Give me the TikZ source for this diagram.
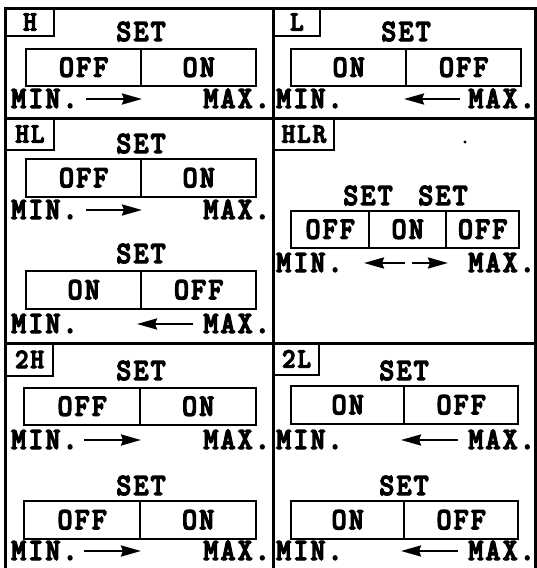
\documentclass[tikz,border=0pt]{standalone}
\usepackage{fontspec}
\newfontfamily\tw{lmmonolt10-bold.otf}[FakeStretch=0.92,FakeBold=4,LetterSpace=7]
\usetikzlibrary{arrows.meta}
\tikzset{
  frame/.style={line width=3pt},
  txt/.style={inner sep=0pt, font=\tw\fontsize{31}{31}\selectfont, text height=18pt, text depth=0pt},
  cell/.style={txt, draw, line width=2.4pt, anchor=north west, minimum height=37pt},
  lab/.style={draw, line width=2pt, anchor=north west, inner sep=0pt, minimum height=27pt,
    font=\tw\fontsize{28}{28}\selectfont, text height=16pt, text depth=0pt},
  minl/.style={txt, anchor=west},
  maxl/.style={txt, anchor=east},
  arr/.style={-{Stealth[length=20pt,width=11pt,inset=2pt]}, line width=2.5pt},
}
\begin{document}
\begin{tikzpicture}[x=1pt,y=-1pt]
\useasboundingbox (0,0) rectangle (537,568);
% frame
\draw[frame] (5,568) -- (5,8) -- (535,8) -- (535,568);
\draw[frame] (273,8) -- (273,568);
\draw[frame] (5,118) -- (535,118);
\draw[frame] (5,343) -- (535,343);

% ---------- H ----------
\node[lab, minimum width=48pt] (hlab) at (5,8) {H};
\node[txt] (hset) at (141,32) {SET};
\node[cell, minimum width=115pt] (hoff) at (25,48) {OFF};
\node[cell, minimum width=115pt] (hon) at (140,48) {ON};
\node[minl] (hmin) at (11,99) {MIN.};
\node[maxl] (hmax) at (270,99) {MAX.};
\coordinate (ha1) at (86,99); \coordinate (ha2) at (142,99);
\draw[arr] (ha1) -- (ha2);

% ---------- L ----------
\node[lab, minimum width=46pt] (llab) at (273,8) {L};
\node[txt] (lset) at (406,32) {SET};
\node[cell, minimum width=115pt] (lon) at (290,48) {ON};
\node[cell, minimum width=115pt] (loff) at (405,48) {OFF};
\node[minl] (lmin) at (276,99) {MIN.};
\node[maxl] (lmax) at (535,99) {MAX.};
\coordinate (la1) at (460,99); \coordinate (la2) at (404,99);
\draw[arr] (la1) -- (la2);

% ---------- HL ----------
\node[lab, minimum width=48pt, minimum height=31pt] (hllab) at (5,118) {HL};
\node[txt] (hlset1) at (141,144) {SET};
\node[cell, minimum width=115pt, minimum height=38pt] (hloff1) at (25,158) {OFF};
\node[cell, minimum width=115pt, minimum height=38pt] (hlon1) at (140,158) {ON};
\node[minl] (hlmin1) at (11,210) {MIN.};
\node[maxl] (hlmax1) at (270,210) {MAX.};
\coordinate (hla1) at (86,210); \coordinate (hla2) at (142,210);
\draw[arr] (hla1) -- (hla2);
\node[txt] (hlset2) at (141,254) {SET};
\node[cell, minimum width=115pt, minimum height=38pt] (hlon2) at (25,270) {ON};
\node[cell, minimum width=115pt, minimum height=38pt] (hloff2) at (140,270) {OFF};
\node[minl] (hlmin2) at (11,324) {MIN.};
\node[maxl] (hlmax2) at (270,324) {MAX.};
\coordinate (hlb1) at (193,324); \coordinate (hlb2) at (137,324);
\draw[arr] (hlb1) -- (hlb2);

% ---------- HLR ----------
\node[lab, minimum width=60pt, minimum height=31pt] (hlrlab) at (273,118) {HLR};
\fill (465,142) circle (1.6pt);
\node[txt] (hlrset1) at (368,196) {SET};
\node[txt] (hlrset2) at (443,196) {SET};
\node[cell, minimum width=78pt] (hlroff1) at (290,210) {OFF};
\node[cell, minimum width=77pt] (hlron) at (368,210) {ON};
\node[cell, minimum width=73pt] (hlroff2) at (445,210) {OFF};
\node[minl] (hlrmin) at (276,263) {MIN.};
\node[maxl] (hlrmax) at (535,263) {MAX.};
\coordinate (hlrc1) at (405,263); \coordinate (hlrl) at (364,263);
\coordinate (hlrc2) at (412,263); \coordinate (hlrr) at (448,263);
\draw[arr] (hlrc1) -- (hlrl);
\draw[arr] (hlrc2) -- (hlrr);

% ---------- 2H ----------
\node[lab, minimum width=47pt, minimum height=32pt] (twohlab) at (5,343) {2H};
\node[txt] (twohset1) at (141,371) {SET};
\node[cell, minimum width=116pt] (twohoff1) at (23,387) {OFF};
\node[cell, minimum width=116pt] (twohon1) at (139,387) {ON};
\node[minl] (twohmin1) at (11,440) {MIN.};
\node[maxl] (twohmax1) at (270,440) {MAX.};
\coordinate (tha1) at (84,440); \coordinate (tha2) at (141,440);
\draw[arr] (tha1) -- (tha2);
\node[txt] (twohset2) at (141,486) {SET};
\node[cell, minimum width=116pt, minimum height=38pt] (twohoff2) at (23,500) {OFF};
\node[cell, minimum width=116pt, minimum height=38pt] (twohon2) at (139,500) {ON};
\node[minl] (twohmin2) at (11,551) {MIN.};
\node[maxl] (twohmax2) at (270,551) {MAX.};
\coordinate (thb1) at (84,551); \coordinate (thb2) at (141,551);
\draw[arr] (thb1) -- (thb2);

% ---------- 2L ----------
\node[lab, minimum width=45pt, minimum height=31pt] (twollab) at (273,343) {2L};
\node[txt] (twolset1) at (404,371) {SET};
\node[cell, minimum width=113pt, minimum height=38pt] (twolon1) at (290,385) {ON};
\node[cell, minimum width=114pt, minimum height=38pt] (twoloff1) at (403,385) {OFF};
\node[minl] (twolmin1) at (276,440) {MIN.};
\node[maxl] (twolmax1) at (535,440) {MAX.};
\coordinate (tla1) at (458,440); \coordinate (tla2) at (401,440);
\draw[arr] (tla1) -- (tla2);
\node[txt] (twolset2) at (404,486) {SET};
\node[cell, minimum width=113pt, minimum height=38pt] (twolon2) at (290,500) {ON};
\node[cell, minimum width=114pt, minimum height=38pt] (twoloff2) at (403,500) {OFF};
\node[minl] (twolmin2) at (276,551) {MIN.};
\node[maxl] (twolmax2) at (535,551) {MAX.};
\coordinate (tlb1) at (458,551); \coordinate (tlb2) at (401,551);
\draw[arr] (tlb1) -- (tlb2);
\end{tikzpicture}
\end{document}
